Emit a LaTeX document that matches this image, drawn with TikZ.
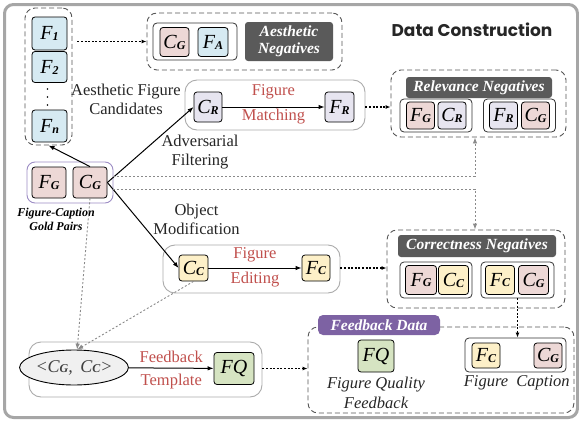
\documentclass[tikz,border=0pt]{standalone}
\usepackage{fontspec}
\setmainfont{Liberation Serif}
\newfontfamily\titlefont{Poppins}
\usetikzlibrary{arrows.meta,shapes.geometric}

\definecolor{pinkfill}{HTML}{EDD8D6}
\definecolor{bluefill}{HTML}{D6EAF2}
\definecolor{lavfill}{HTML}{E7E5F0}
\definecolor{yelfill}{HTML}{FDF0C8}
\definecolor{grnfill}{HTML}{D6E4C2}
\definecolor{darklabel}{HTML}{5A5A5A}
\definecolor{purplelabel}{HTML}{7D62A3}
\definecolor{goldborder}{HTML}{9C8CC4}
\definecolor{stepred}{HTML}{C0504D}
\definecolor{framegray}{HTML}{A6A6A6}
\definecolor{boxgray}{HTML}{ABABAB}
\definecolor{dashgray}{HTML}{555555}
\definecolor{linkgray}{HTML}{8A8A8A}

% small bold-italic index letter
\newcommand{\lsub}[1]{\raisebox{-0.1ex}{\fontsize{12}{12}\selectfont\bfseries\itshape #1}}
\newcommand{\sym}[2]{\textit{#1}\lsub{#2}}

\tikzset{
  item/.style={draw=black, line width=0.8pt, rounded corners=3pt, inner sep=0pt,
    font=\fontsize{20}{20}\selectfont\itshape},
  dashbox/.style={draw=dashgray, line width=0.9pt, dash pattern=on 5pt off 3pt,
    rounded corners=10pt, inner sep=0pt},
  pairbox/.style={draw=black!80, line width=0.8pt, rounded corners=4pt, inner sep=0pt},
  procbox/.style={draw=boxgray, line width=0.9pt, rounded corners=12pt, inner sep=0pt},
  tagbox/.style={fill=darklabel, rounded corners=3pt, inner sep=0pt, text=white,
    font=\fontsize{15.5}{18}\selectfont\bfseries\itshape, align=center},
  plain/.style={font=\fontsize{16.5}{19}\selectfont, align=center, inner sep=0pt, text=black!85},
  steplabel/.style={text=stepred, font=\fontsize{16.5}{16.5}\selectfont, inner sep=0pt},
  solidarrow/.style={line width=1pt, -{Latex[length=6pt,width=4.5pt]}},
  dotarrow/.style={line width=1.1pt, dash pattern=on 2pt off 1.6pt,
    -{Latex[length=5pt,width=4pt]}},
  grayarrow/.style={linkgray, line width=0.9pt, dash pattern=on 2pt off 2pt,
    -{Latex[length=6pt,width=4.5pt]}},
}

\begin{document}
\begin{tikzpicture}[x=1pt,y=-1pt]
\useasboundingbox (0,0) rectangle (579,423);

% outer frame
\draw[framegray, line width=3pt, rounded corners=9pt] (4.5,4.5) rectangle (577.5,417.5);

% title
\node[font=\titlefont\bfseries\fontsize{17}{17}\selectfont, text=black!85] (title) at (472,30) {Data Construction};

% aesthetic figure candidates
\node[dashbox, minimum width=47pt, minimum height=137pt] (candbox) at (48.5,76.5) {};
\node[item, fill=bluefill, minimum width=35pt, minimum height=33pt] (f1) at (49.5,33.5) {\sym{F}{1}};
\node[item, fill=bluefill, minimum width=35pt, minimum height=31pt] (f2) at (49.5,67) {\sym{F}{2}};
\node[item, fill=bluefill, minimum width=35pt, minimum height=32pt] (fn) at (49.5,126) {\sym{F}{n}};
\foreach \yy in {89,97,105} \fill (47.5,\yy) circle (0.9pt);
\node[plain] (candtext) at (126,99) {Aesthetic Figure\\Candidates};

% aesthetic negatives
\node[dashbox, minimum width=195pt, minimum height=57pt] (aesbox) at (244.5,41.5) {};
\node[pairbox, minimum width=84pt, minimum height=37pt] (aespair) at (195,41.5) {};
\node[item, fill=pinkfill, minimum width=29pt, minimum height=29pt] (aescg) at (174.5,42) {\sym{C}{G}};
\node[item, fill=bluefill, minimum width=30pt, minimum height=29pt] (aesfa) at (213,42) {\sym{F}{A}};
\node[tagbox, minimum width=88pt, minimum height=39pt] (aestag) at (289,41.5) {Aesthetic\\[-1pt]Negatives};

% gold pairs
\node[draw=goldborder, line width=0.9pt, rounded corners=8pt, minimum width=86pt, minimum height=41pt, inner sep=0pt] (goldbox) at (70,182.5) {};
\node[item, fill=pinkfill, minimum width=34pt, minimum height=31pt] (fg) at (49,182.5) {\sym{F}{G}};
\node[item, fill=pinkfill, minimum width=34pt, minimum height=31pt] (cg) at (90,182.5) {\sym{C}{G}};
\node[font=\fontsize{12}{14}\selectfont\bfseries\itshape, align=center, inner sep=0pt] (goldtext) at (56,219) {Figure-Caption\\Gold Pairs};

% figure matching
\node[procbox, minimum width=180pt, minimum height=50pt] (matchbox) at (275,105) {};
\node[item, fill=lavfill, minimum width=28pt, minimum height=30pt] (cr) at (208,107) {\sym{C}{R}};
\node[item, fill=lavfill, minimum width=29pt, minimum height=30pt] (fr) at (339.5,107) {\sym{F}{R}};
\draw[solidarrow] (cr) -- node[above=7pt, steplabel] (matchA) {Figure} node[below=2pt, steplabel] (matchB) {Matching} (fr);
\node[plain] (advtext) at (200,152.5) {Adversarial\\Filtering};

% relevance negatives
\node[dashbox, minimum width=175pt, minimum height=67pt] (relbox) at (478.5,103.5) {};
\node[tagbox, minimum width=146pt, minimum height=21pt] (reltag) at (479,87.5) {Relevance Negatives};
\node[pairbox, minimum width=72pt, minimum height=33pt] (relA) at (436,115.5) {};
\node[item, fill=pinkfill, minimum width=28pt, minimum height=27pt] (relfg) at (420.5,115.5) {\sym{F}{G}};
\node[item, fill=lavfill, minimum width=28pt, minimum height=27pt] (relcr) at (452,115.5) {\sym{C}{R}};
\node[pairbox, minimum width=72pt, minimum height=33pt] (relB) at (519.5,115.5) {};
\node[item, fill=lavfill, minimum width=28pt, minimum height=27pt] (relfr) at (503.5,115.5) {\sym{F}{R}};
\node[item, fill=pinkfill, minimum width=28pt, minimum height=27pt] (relcg) at (535.5,115.5) {\sym{C}{G}};

% figure editing
\node[plain] (objtext) at (196.5,219) {Object\\Modification};
\node[procbox, minimum width=177pt, minimum height=48pt] (editbox) at (251.5,269) {};
\node[item, fill=yelfill, minimum width=29pt, minimum height=26pt] (cc) at (193.5,268) {\sym{C}{C}};
\node[item, fill=yelfill, minimum width=28pt, minimum height=26pt] (fc) at (316,268) {\sym{F}{C}};
\draw[solidarrow] (cc) -- node[above=5pt, steplabel] (editA) {Figure} node[below=4pt, steplabel] (editB) {Editing} (fc);

% correctness negatives
\node[dashbox, minimum width=178pt, minimum height=78pt] (corbox) at (476,269) {};
\node[tagbox, minimum width=158pt, minimum height=22pt] (cortag) at (477,246) {Correctness Negatives};
\node[pairbox, minimum width=72pt, minimum height=36pt] (corA) at (436,280) {};
\node[item, fill=pinkfill, minimum width=31pt, minimum height=29pt] (corfg) at (421,280) {\sym{F}{G}};
\node[item, fill=yelfill, minimum width=30pt, minimum height=29pt] (corcc) at (453.5,280) {\sym{C}{C}};
\node[pairbox, minimum width=73pt, minimum height=36pt] (corB) at (517.5,280) {};
\node[item, fill=yelfill, minimum width=29pt, minimum height=29pt] (corfc) at (500,280) {\sym{F}{C}};
\node[item, fill=pinkfill, minimum width=30pt, minimum height=29pt] (corcg) at (533.5,280) {\sym{C}{G}};

% feedback template
\node[procbox, minimum width=233pt, minimum height=55pt] (tmplbox) at (145.5,369.5) {};
\node[ellipse, draw=black, line width=0.9pt, fill=black!6, minimum width=82pt, minimum height=35pt, inner sep=0pt,
  text=black!75, font=\fontsize{18}{18}\selectfont\itshape] (ell) at (74,367.5) {<C\lsub{G},\, C\lsub{C}>};
\node[item, fill=grnfill, minimum width=40pt, minimum height=32pt] (fqa) at (234,368.5) {FQ};
\draw[solidarrow] (ell) -- node[above=5pt, steplabel] (tmplA) {Feedback} node[below=5pt, steplabel] (tmplB) {Template} (fqa);

% feedback data
\node[dashbox, minimum width=266pt, minimum height=86pt] (fbbox) at (441,370) {};
\node[fill=purplelabel, rounded corners=5pt, inner sep=0pt, minimum width=122pt, minimum height=20pt,
  text=white, font=\fontsize{15.5}{15.5}\selectfont\bfseries\itshape] (fbtag) at (379,325) {Feedback Data};
\node[item, fill=grnfill, minimum width=36pt, minimum height=32pt] (fqb) at (376,356) {FQ};
\node[plain, font=\fontsize{16.5}{20}\selectfont\itshape] (fqtext) at (376,393) {Figure Quality\\Feedback};
\node[pairbox, minimum width=101pt, minimum height=34pt] (fbpair) at (515.5,355) {};
\node[item, fill=yelfill, minimum width=28pt, minimum height=25pt] (fbfc) at (486,355.5) {\sym{F}{C}};
\node[item, fill=pinkfill, minimum width=28pt, minimum height=25pt] (fbcg) at (548,355.5) {\sym{C}{G}};
\node[plain, font=\fontsize{16.5}{16.5}\selectfont\itshape] (figtext) at (486,383) {Figure};
\node[plain, font=\fontsize{16.5}{16.5}\selectfont\itshape] (captext) at (543,383) {Caption};

% solid links from the gold pair
\draw[solidarrow] (cg.north) -- (candbox.south);
\draw[solidarrow] (cg.east) -- (cr.west);
\draw[solidarrow] (cg.east) -- (cc.west);

% dotted outputs
\draw[dotarrow] ([xshift=5pt]candbox.east |- aesbox.west) -- (aesbox.west);
\draw[dotarrow] (matchbox.east |- fr.east) -- (relbox.west |- fr.east);
\draw[dotarrow] (editbox.east |- fc.east) -- (corbox.west |- fc.east);
\draw[dotarrow] (tmplbox.east |- fqa.east) -- (fbbox.west |- fqa.east);
\draw[dotarrow] (corB.south) -- (corB.south |- fbpair.north);

% gray dotted links
\coordinate (turnup) at (475,176);
\coordinate (turndown) at (475,189);
\draw[grayarrow] (goldbox.east |- turnup) -- (turnup) -- (turnup |- relbox.south);
\draw[grayarrow] (goldbox.east |- turndown) -- (turndown) -- (turndown |- corbox.north);
\draw[grayarrow] (cg.south) -- (ell.80);
\draw[grayarrow] (cc.south) -- (ell.80);

\end{tikzpicture}
\end{document}
